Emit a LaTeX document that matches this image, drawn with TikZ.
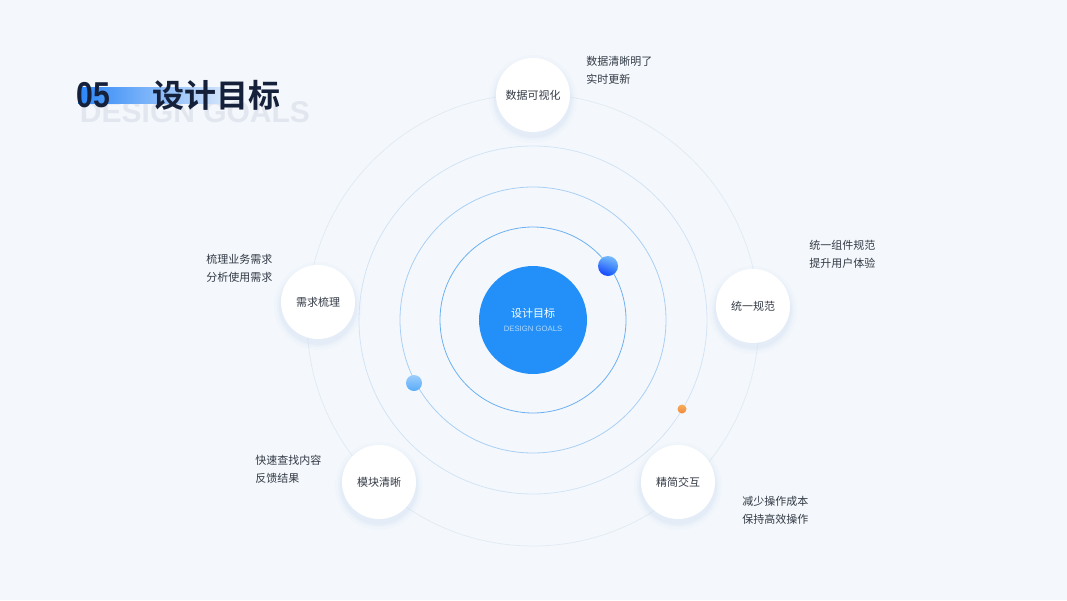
\documentclass[tikz,border=0pt]{standalone}
\usepackage{fontspec}
\setmainfont{Noto Sans CJK SC}
\newfontfamily\cjkbold{Noto Sans CJK SC Bold}
\newfontfamily\latinsans{Liberation Sans}
\usetikzlibrary{calc,positioning,shadings}
\definecolor{goalBg}{HTML}{F4F8FC}
\definecolor{goalBlue}{HTML}{2290F8}
\definecolor{goalBar}{HTML}{2B86F8}
\definecolor{goalBarEnd}{HTML}{D4E5FB}
\definecolor{goalNavy}{HTML}{15203A}
\definecolor{goalGray}{HTML}{333A45}
\definecolor{goalWatermark}{HTML}{E2E6EF}
\definecolor{goalOrangeA}{HTML}{F8AE5A}
\definecolor{goalOrangeB}{HTML}{F08A3C}
\definecolor{ringA}{HTML}{6DB0F2}
\definecolor{ringB}{HTML}{A9CFF4}
\definecolor{ringC}{HTML}{D3E4F5}
\definecolor{ringD}{HTML}{E2EBF4}
\definecolor{goalShadow}{HTML}{C9DCF2}
\tikzset{
  orbit/.style={line width=0.6pt},
  satellite/.style={circle, fill=white, minimum size=55.5pt, inner sep=0pt,
    font=\fontsize{8.25}{10}\selectfont, text=goalGray},
  note/.style={anchor=west, align=left, inner sep=0pt,
    font=\fontsize{8.25}{13.6}\selectfont, text=goalGray},
}
\begin{document}
\begin{tikzpicture}[x=0.75pt,y=-0.75pt]
\useasboundingbox (0,0) rectangle (1067,600);
\fill[goalBg] (0,0) rectangle (1067,600);

% title
\node[anchor=center, inner sep=0pt, text=goalWatermark] (wm) at (195,112)
  {\latinsans\bfseries\fontsize{22.5}{24}\selectfont DESIGN GOALS};
\shade[left color=goalBar, right color=goalBarEnd] (78,87) rectangle (224,103);
\node[anchor=west, inner sep=0pt, text=goalNavy] (num) at (76,95)
  {\scalebox{0.84}[1]{\latinsans\bfseries\fontsize{27}{28}\selectfont 05}};
\node[anchor=west, inner sep=0pt, text=goalNavy] (title) at (152,95)
  {\cjkbold\fontsize{24}{26}\selectfont 设计目标};

% orbits
\coordinate (c) at (533,320);
\draw[orbit, ringD] (c) circle (226);
\draw[orbit, ringC] (c) circle (174);
\draw[orbit, ringB] (c) circle (133);
\draw[orbit, ringA] (c) circle (93);

\node[circle, fill=goalBlue, minimum size=81pt, inner sep=0pt, align=center] (core) at (c)
  {\fontsize{8.25}{10}\selectfont\color{white}设计目标\\[-1pt]
   {\latinsans\fontsize{5.8}{7}\selectfont\color{white!65!goalBlue}DESIGN GOALS}};

% planets
\shade[lower left=blue!70!goalBlue, upper right=goalBlue!55!white,
  lower right=goalBlue!80!blue, upper left=goalBlue!70!white] (608,266) circle (10);
\shade[top color=goalBlue!45!white, bottom color=goalBlue!75!white] (414,383) circle (8);
\shade[top color=goalOrangeA, bottom color=goalOrangeB] (682,409) circle (4.5);

% satellites
\foreach \px/\py in {533/95,753/306,678/482,379/482,318/302}{
  \foreach \rs/\op in {44/0.08,41/0.12,39/0.18}
    \fill[goalShadow, opacity=\op] (\px,\py+4) circle (\rs);
}
\node[satellite] (vis) at (533,95) {数据可视化};
\node[satellite] (std) at (753,306) {统一规范};
\node[satellite] (ux) at (678,482) {精简交互};
\node[satellite] (mod) at (379,482) {模块清晰};
\node[satellite] (req) at (318,302) {需求梳理};

% notes
\node[note] (visNote) at (586,70) {数据清晰明了\\实时更新};
\node[note] (stdNote) at (809,254) {统一组件规范\\提升用户体验};
\node[note] (uxNote) at (742,510) {减少操作成本\\保持高效操作};
\node[note] (modNote) at (255,469) {快速查找内容\\反馈结果};
\node[note] (reqNote) at (206,268) {梳理业务需求\\分析使用需求};
\end{tikzpicture}
\end{document}
